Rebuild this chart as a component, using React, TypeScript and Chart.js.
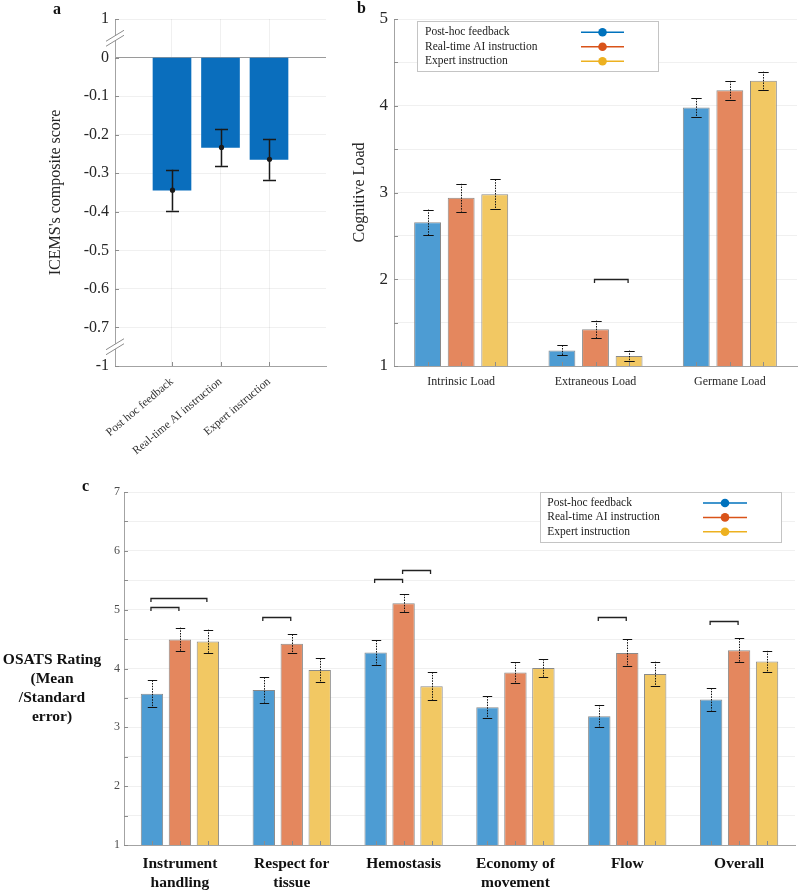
import React, { useEffect, useRef } from 'react';
import { Chart, registerables } from 'chart.js';

Chart.register(...registerables);

const SERIF = "'Liberation Serif', 'Times New Roman', Times, serif";

// ---------- Panel a : ICEMS composite score ----------
const groupsA = ['Post hoc feedback', 'Real-time AI instruction', 'Expert instruction'];
const positionsA = [1, 2, 3];
const icemsMean = [-0.344, -0.233, -0.264];
const icemsErr = [0.053, 0.048, 0.053];
// broken axis: the tick at 0.1 is labelled "1", the tick at -0.8 is labelled "-1"
const yTicksA = [0.1, 0, -0.1, -0.2, -0.3, -0.4, -0.5, -0.6, -0.7, -0.8];
const yTickLabelsA = ['1', '0', '-0.1', '-0.2', '-0.3', '-0.4', '-0.5', '-0.6', '-0.7', '-1'];
const breakValuesA = [0.05, -0.75];

// ---------- Panel b : Cognitive load ----------
const seriesNames = ['Post-hoc feedback', 'Real-time AI instruction', 'Expert instruction'];
const loadCategories = ['Intrinsic Load', 'Extraneous Load', 'Germane Load'];
const loadPostHoc = [2.656, 1.18, 3.98];
const loadRealTime = [2.94, 1.423, 4.178];
const loadExpert = [2.98, 1.115, 4.289];
const loadPostHocErr = [0.147, 0.058, 0.107];
const loadRealTimeErr = [0.16, 0.1, 0.108];
const loadExpertErr = [0.17, 0.063, 0.104];
const loadBrackets = [{ cat: 1, from: 1, to: 2, y: 2.0 }];

// ---------- Panel c : OSATS ----------
const osatsCategories = [
  ['Instrument', 'handling'],
  ['Respect for', 'tissue'],
  ['Hemostasis'],
  ['Economy of', 'movement'],
  ['Flow'],
  ['Overall'],
];
const osatsPostHoc = [3.572, 3.635, 4.27, 3.34, 3.19, 3.475];
const osatsRealTime = [4.495, 4.42, 5.11, 3.93, 4.264, 4.31];
const osatsExpert = [4.46, 3.975, 3.7, 4.01, 3.905, 4.12];
const osatsPostHocErr = [0.227, 0.215, 0.21, 0.185, 0.19, 0.19];
const osatsRealTimeErr = [0.2, 0.16, 0.155, 0.18, 0.23, 0.2];
const osatsExpertErr = [0.2, 0.2, 0.237, 0.15, 0.21, 0.18];
const osatsBrackets = [
  { cat: 0, from: 0, to: 1, y: 5.05 },
  { cat: 0, from: 0, to: 2, y: 5.19 },
  { cat: 1, from: 0, to: 1, y: 4.88 },
  { cat: 2, from: 0, to: 1, y: 5.527 },
  { cat: 2, from: 1, to: 2, y: 5.68 },
  { cat: 4, from: 0, to: 1, y: 4.875 },
  { cat: 5, from: 0, to: 1, y: 4.8 },
];

const lineColors = ['#0072BD', '#D95319', '#EDB120'];
const barColors = ['#4D9CD3', '#E4875E', '#F2C863'];
const FAINT = 'rgba(0,0,0,0.06)';
const AXIS = '#a3a3a3';

// ---------- plugins ----------
const errorBarsPlugin = {
  id: 'errorBars',
  afterDatasetsDraw(chart: any, _a: any, opts: any) {
    if (!opts || !opts.errors) return;
    const { ctx } = chart;
    const ys = chart.scales.y;
    ctx.save();
    opts.errors.forEach((errs: number[], di: number) => {
      const meta = chart.getDatasetMeta(di);
      meta.data.forEach((bar: any, i: number) => {
        const raw = chart.data.datasets[di].data[i];
        const v = typeof raw === 'number' ? raw : raw.y;
        const x = Math.round(bar.x) + 0.5;
        const top = ys.getPixelForValue(v + errs[i]);
        const bot = ys.getPixelForValue(v - errs[i]);
        ctx.strokeStyle = opts.color || '#111';
        ctx.lineWidth = opts.lineWidth || 1;
        ctx.setLineDash(opts.dash || []);
        ctx.beginPath();
        ctx.moveTo(x, top);
        ctx.lineTo(x, bot);
        ctx.stroke();
        ctx.setLineDash([]);
        ctx.beginPath();
        ctx.moveTo(x - opts.cap, Math.round(top) + 0.5);
        ctx.lineTo(x + opts.cap, Math.round(top) + 0.5);
        ctx.moveTo(x - opts.cap, Math.round(bot) + 0.5);
        ctx.lineTo(x + opts.cap, Math.round(bot) + 0.5);
        ctx.stroke();
        if (opts.dot) {
          ctx.fillStyle = opts.color || '#111';
          ctx.beginPath();
          ctx.arc(x, ys.getPixelForValue(v), opts.dot, 0, Math.PI * 2);
          ctx.fill();
        }
      });
    });
    ctx.restore();
  },
};

const bracketsPlugin = {
  id: 'brackets',
  afterDatasetsDraw(chart: any, _a: any, opts: any) {
    if (!opts || !opts.items) return;
    const { ctx } = chart;
    const ys = chart.scales.y;
    ctx.save();
    ctx.strokeStyle = '#222';
    ctx.lineWidth = 1.3;
    opts.items.forEach((b: any) => {
      const x1 = chart.getDatasetMeta(b.from).data[b.cat].x;
      const x2 = chart.getDatasetMeta(b.to).data[b.cat].x;
      const y = Math.round(ys.getPixelForValue(b.y)) + 0.5;
      ctx.beginPath();
      ctx.moveTo(x1 - 1, y + 3.5);
      ctx.lineTo(x1 - 1, y);
      ctx.lineTo(x2 - 1, y);
      ctx.lineTo(x2 - 1, y + 3.5);
      ctx.stroke();
    });
    ctx.restore();
  },
};

const innerTicksPlugin = {
  id: 'innerTicks',
  afterDraw(chart: any, _a: any, opts: any) {
    if (!opts || !opts.enabled) return;
    const { ctx, chartArea } = chart;
    const ys = chart.scales.y;
    ctx.save();
    ctx.strokeStyle = opts.color || '#8c8c8c';
    ctx.lineWidth = 1;
    ctx.beginPath();
    ys.ticks.forEach((t: any) => {
      const py = Math.round(ys.getPixelForValue(t.value)) + 0.5;
      ctx.moveTo(chartArea.left, py);
      ctx.lineTo(chartArea.left + opts.len, py);
    });
    const xs: number[] = [];
    if (opts.xMode === 'ticks') {
      chart.scales.x.ticks.forEach((t: any) => xs.push(chart.scales.x.getPixelForValue(t.value)));
    } else if (opts.xMode === 'bars') {
      chart.data.datasets.forEach((_d: any, di: number) =>
        chart.getDatasetMeta(di).data.forEach((el: any) => xs.push(el.x))
      );
    }
    xs.forEach((px) => {
      const x = Math.round(px) + 0.5;
      ctx.moveTo(x, chartArea.bottom);
      ctx.lineTo(x, chartArea.bottom - opts.len);
    });
    ctx.stroke();
    ctx.restore();
  },
};

const breakMarksPlugin = {
  id: 'breakMarks',
  afterDraw(chart: any, _a: any, opts: any) {
    if (!opts || !opts.values) return;
    const { ctx, chartArea } = chart;
    const ys = chart.scales.y;
    ctx.save();
    ctx.strokeStyle = '#8c8c8c';
    ctx.lineWidth = 1;
    opts.values.forEach((v: number) => {
      const y = ys.getPixelForValue(v);
      const x = chartArea.left;
      ctx.fillStyle = '#fff';
      ctx.beginPath();
      ctx.moveTo(x - 9, y + 3);
      ctx.lineTo(x + 9, y - 8);
      ctx.lineTo(x + 9, y - 3);
      ctx.lineTo(x - 9, y + 8);
      ctx.closePath();
      ctx.fill();
      [-2.5, 2.5].forEach((off) => {
        ctx.beginPath();
        ctx.moveTo(x - 9, y + 5.5 + off);
        ctx.lineTo(x + 9, y - 5.5 + off);
        ctx.stroke();
      });
    });
    ctx.restore();
  },
};

const boxLegendPlugin = {
  id: 'boxLegend',
  afterDraw(chart: any, _a: any, opts: any) {
    if (!opts || !opts.items) return;
    const { ctx, chartArea } = chart;
    const left =
      opts.anchor === 'right'
        ? chartArea.right - opts.offsetX - opts.width
        : chartArea.left + opts.offsetX;
    const top = chartArea.top + opts.offsetY;
    ctx.save();
    ctx.fillStyle = '#fff';
    ctx.fillRect(left, top, opts.width, opts.height);
    ctx.strokeStyle = '#c4c4c4';
    ctx.lineWidth = 1;
    ctx.strokeRect(Math.round(left) + 0.5, Math.round(top) + 0.5, opts.width, opts.height);
    ctx.font = `11.5px ${SERIF}`;
    ctx.textBaseline = 'middle';
    opts.items.forEach((name: string, i: number) => {
      const y = top + opts.firstRow + i * opts.rowGap;
      ctx.fillStyle = '#222';
      ctx.fillText(name, left + opts.textX, y);
      ctx.strokeStyle = opts.colors[i];
      ctx.lineWidth = 1.5;
      ctx.beginPath();
      ctx.moveTo(left + opts.lineX0, y);
      ctx.lineTo(left + opts.lineX1, y);
      ctx.stroke();
      ctx.fillStyle = opts.colors[i];
      ctx.beginPath();
      ctx.arc(left + (opts.lineX0 + opts.lineX1) / 2, y, 4.3, 0, Math.PI * 2);
      ctx.fill();
    });
    ctx.restore();
  },
};

const allPlugins = [errorBarsPlugin, bracketsPlugin, innerTicksPlugin, breakMarksPlugin, boxLegendPlugin];

// ---------- configs ----------
function configA(): any {
  return {
    type: 'bar',
    data: {
      datasets: [
        {
          data: positionsA.map((x, i) => ({ x, y: icemsMean[i] })),
          backgroundColor: '#0A6EBD',
          borderWidth: 0,
          barThickness: 38,
        },
      ],
    },
    plugins: allPlugins,
    options: {
      responsive: false,
      animation: false,
      devicePixelRatio: 1,
      layout: { padding: { left: 0, top: 19, right: 9, bottom: 0 } },
      plugins: {
        legend: { display: false },
        tooltip: { enabled: false },
        errorBars: { errors: [icemsErr], cap: 6.5, lineWidth: 1.5, color: '#1a1a1a', dot: 2.6 },
        innerTicks: { enabled: true, len: 4, xMode: 'ticks' },
        breakMarks: { values: breakValuesA },
      },
      scales: {
        x: {
          type: 'linear',
          min: -0.175,
          max: 4.175,
          offset: false,
          afterBuildTicks: (s: any) => {
            s.ticks = positionsA.map((v) => ({ value: v }));
          },
          afterFit: (s: any) => {
            s.height = 94;
          },
          ticks: {
            autoSkip: false,
            minRotation: 40,
            maxRotation: 40,
            padding: 9,
            color: '#333',
            font: { family: SERIF, size: 11.5 },
            callback: (v: number) => {
              const k = positionsA.indexOf(v);
              return k >= 0 ? groupsA[k] : '';
            },
          },
          grid: { color: FAINT, drawTicks: false, offset: false },
          border: { color: AXIS },
        },
        y: {
          min: -0.8,
          max: 0.1,
          afterBuildTicks: (s: any) => {
            s.ticks = yTicksA.map((v) => ({ value: v }));
          },
          afterFit: (s: any) => {
            s.width = 115;
          },
          ticks: {
            padding: 6,
            color: '#262626',
            font: { family: SERIF, size: 16 },
            callback: (v: number) => {
              const k = yTicksA.findIndex((t) => Math.abs(t - v) < 1e-9);
              return k >= 0 ? yTickLabelsA[k] : '';
            },
          },
          grid: {
            drawTicks: false,
            color: (c: any) => (c.tick && Math.abs(c.tick.value) < 1e-9 ? '#9a9a9a' : FAINT),
          },
          border: { color: AXIS },
          title: {
            display: true,
            text: "ICEMS's composite score",
            color: '#262626',
            font: { family: SERIF, size: 16 },
            padding: { top: 46.4, bottom: 0 },
          },
        },
      },
    },
  };
}

function groupedDatasets(series: number[][]) {
  return series.map((d, i) => ({
    label: seriesNames[i],
    data: d,
    backgroundColor: barColors[i],
    borderColor: '#8a8a8a',
    borderWidth: 1,
    categoryPercentage: 0.75,
    barPercentage: 0.8,
  }));
}

function configB(): any {
  return {
    type: 'bar',
    data: {
      labels: loadCategories,
      datasets: groupedDatasets([loadPostHoc, loadRealTime, loadExpert]),
    },
    plugins: allPlugins,
    options: {
      responsive: false,
      animation: false,
      devicePixelRatio: 1,
      layout: { padding: { left: 0, top: 19, right: 2, bottom: 0 } },
      plugins: {
        legend: { display: false },
        tooltip: { enabled: false },
        errorBars: {
          errors: [loadPostHocErr, loadRealTimeErr, loadExpertErr],
          cap: 5.2,
          lineWidth: 1,
          color: '#111',
          dash: [1.5, 1.2],
        },
        brackets: { items: loadBrackets },
        innerTicks: { enabled: true, len: 4, xMode: 'bars' },
        boxLegend: {
          items: seriesNames,
          colors: lineColors,
          anchor: 'left',
          offsetX: 23,
          offsetY: 2,
          width: 241,
          height: 50,
          firstRow: 11.3,
          rowGap: 14.5,
          textX: 8,
          lineX0: 164,
          lineX1: 207,
        },
      },
      scales: {
        x: {
          afterFit: (s: any) => {
            s.height = 54;
          },
          ticks: { padding: 8.5, color: '#262626', font: { family: SERIF, size: 12 } },
          grid: { display: false, drawTicks: false },
          border: { color: AXIS },
        },
        y: {
          min: 1,
          max: 5,
          afterFit: (s: any) => {
            s.width = 64;
          },
          ticks: {
            stepSize: 0.5,
            padding: 6,
            color: '#262626',
            font: { family: SERIF, size: 17 },
            callback: (v: number) => (Number.isInteger(v) ? String(v) : ''),
          },
          grid: { color: FAINT, drawTicks: false },
          border: { color: AXIS },
          title: {
            display: true,
            text: 'Cognitive Load',
            color: '#262626',
            font: { family: SERIF, size: 16 },
            padding: { top: 19.7, bottom: 0 },
          },
        },
      },
    },
  };
}

function configC(): any {
  return {
    type: 'bar',
    data: {
      labels: osatsCategories,
      datasets: groupedDatasets([osatsPostHoc, osatsRealTime, osatsExpert]),
    },
    plugins: allPlugins,
    options: {
      responsive: false,
      animation: false,
      devicePixelRatio: 1,
      layout: { padding: { left: 0, top: 22, right: 4, bottom: 0 } },
      plugins: {
        legend: { display: false },
        tooltip: { enabled: false },
        errorBars: {
          errors: [osatsPostHocErr, osatsRealTimeErr, osatsExpertErr],
          cap: 4.7,
          lineWidth: 1,
          color: '#111',
          dash: [1.5, 1.2],
        },
        brackets: { items: osatsBrackets },
        innerTicks: { enabled: true, len: 4, xMode: 'bars' },
        boxLegend: {
          items: seriesNames,
          colors: lineColors,
          anchor: 'right',
          offsetX: 14,
          offsetY: 0,
          width: 241,
          height: 50,
          firstRow: 11,
          rowGap: 14.4,
          textX: 7.3,
          lineX0: 163,
          lineX1: 207,
        },
      },
      scales: {
        x: {
          afterFit: (s: any) => {
            s.height = 49;
          },
          ticks: {
            padding: 10,
            color: '#111',
            font: { family: SERIF, size: 15.5, weight: 'bold', lineHeight: 1.22 },
          },
          grid: { display: false, drawTicks: false },
          border: { color: AXIS },
        },
        y: {
          min: 1,
          max: 7,
          afterFit: (s: any) => {
            s.width = 124;
          },
          ticks: {
            stepSize: 0.5,
            padding: 4,
            color: '#4d4d4d',
            font: { family: SERIF, size: 12 },
            callback: (v: number) => (Number.isInteger(v) ? String(v) : ''),
          },
          grid: { color: FAINT, drawTicks: false },
          border: { color: AXIS },
        },
      },
    },
  };
}

function ChartCanvas(props: { left: number; top: number; width: number; height: number; make: () => any }) {
  const ref = useRef<HTMLCanvasElement | null>(null);
  useEffect(() => {
    const chart = new Chart(ref.current as HTMLCanvasElement, props.make());
    return () => chart.destroy();
  }, []);
  return (
    <canvas
      ref={ref}
      width={props.width}
      height={props.height}
      style={{ position: 'absolute', left: props.left, top: props.top, width: props.width, height: props.height }}
    />
  );
}

const panelLabel: React.CSSProperties = {
  position: 'absolute',
  fontFamily: SERIF,
  fontWeight: 'bold',
  fontSize: 16,
  lineHeight: '16px',
  color: '#111',
};

export default function App() {
  return (
    <div style={{ position: 'absolute', left: 0, top: 0, width: 799, height: 894, background: '#fff' }}>
      <ChartCanvas left={0} top={0} width={335} height={460} make={configA} />
      <ChartCanvas left={330} top={0} width={469} height={420} make={configB} />
      <ChartCanvas left={0} top={470} width={799} height={424} make={configC} />
      <div style={{ ...panelLabel, left: 53, top: 0.6 }}>a</div>
      <div style={{ ...panelLabel, left: 357, top: 0 }}>b</div>
      <div style={{ ...panelLabel, left: 82, top: 478.3 }}>c</div>
      <div
        style={{
          position: 'absolute',
          left: 0,
          top: 648.8,
          width: 104,
          textAlign: 'center',
          fontFamily: SERIF,
          fontWeight: 'bold',
          fontSize: 15.5,
          lineHeight: '19px',
          color: '#111',
        }}
      >
        OSATS Rating
        <br />
        (Mean
        <br />
        /Standard
        <br />
        error)
      </div>
    </div>
  );
}
